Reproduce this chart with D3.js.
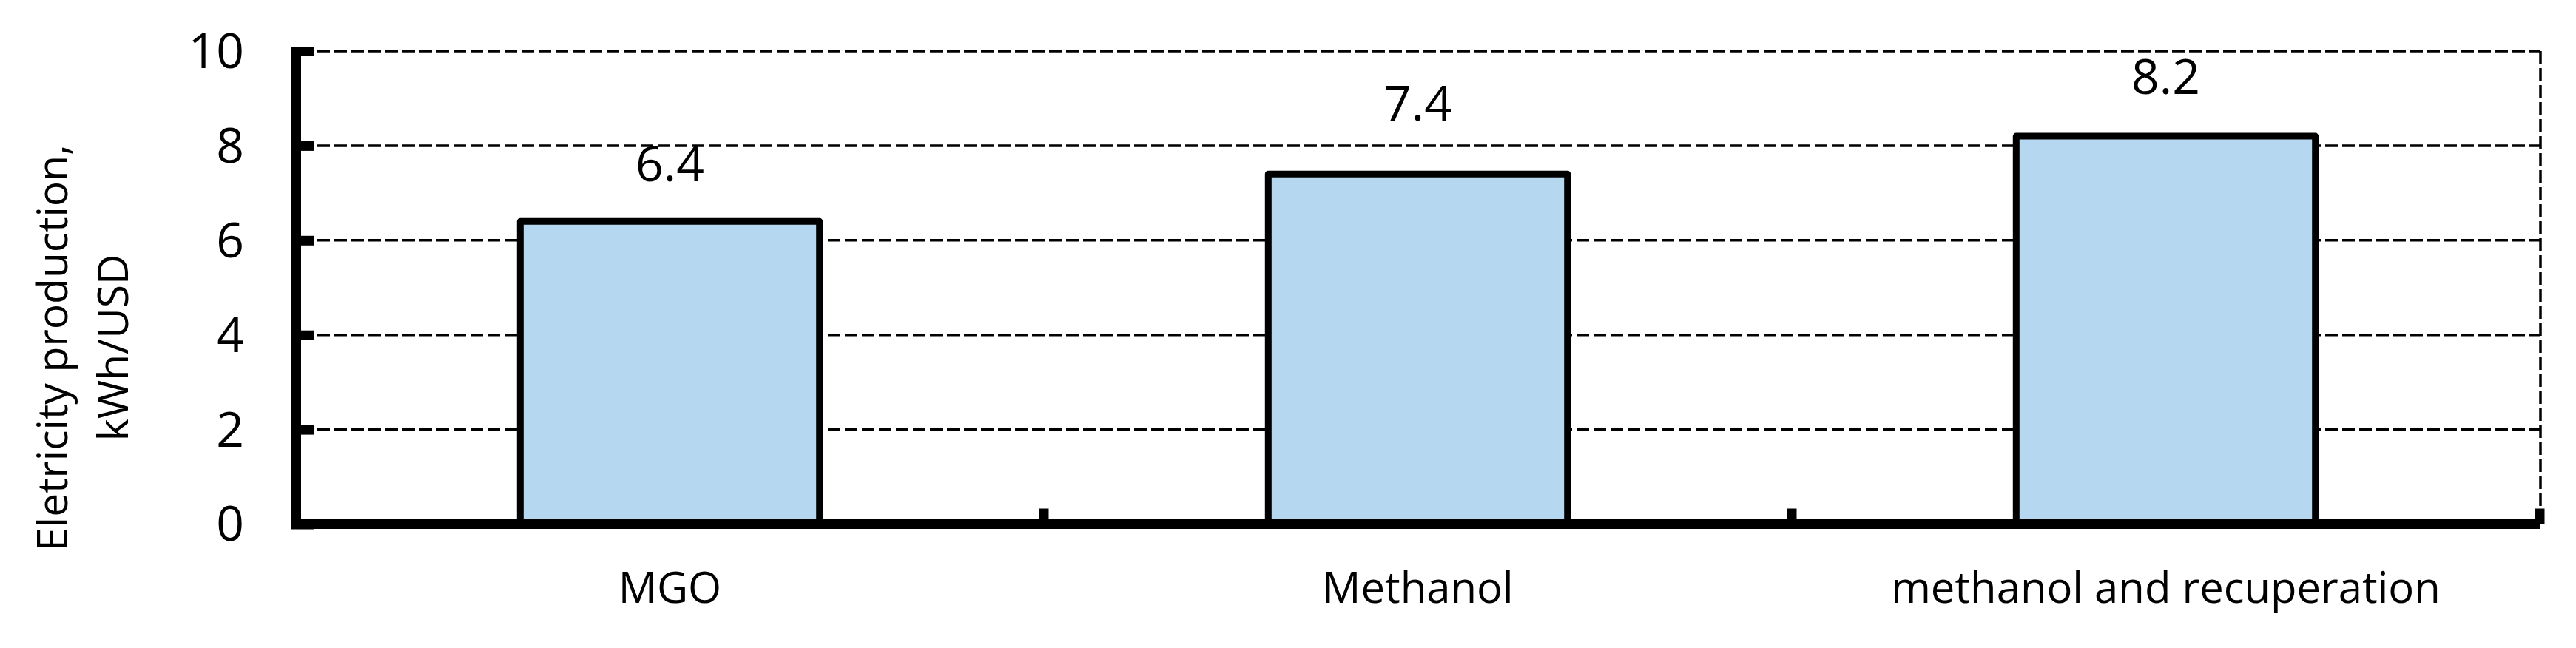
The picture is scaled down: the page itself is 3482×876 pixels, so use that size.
<!DOCTYPE html>
<html>
<head>
<meta charset="utf-8">
<script src="https://cdn.jsdelivr.net/npm/d3@7"></script>
<style>
  html, body { margin: 0; padding: 0; background: #ffffff; }
  svg { display: block; }
  text { font-family: "Open Sans", "Noto Sans", sans-serif; fill: #000; }
</style>
</head>
<body>
<svg id="chart" width="3482" height="876"></svg>
<script>
// ---- data ----
const categories = ["MGO", "Methanol", "methanol and recuperation"];
const values = [6.4, 7.4, 8.2];
const valueLabels = ["6.4", "7.4", "8.2"];
const yTicks = [0, 2, 4, 6, 8, 10];
const yTitleLines = ["Eletricity production,", "kWh/USD"];

// ---- layout (not data) ----
const W = 3482, H = 876;
const plot = { left: 400, right: 3433, top: 69, bottom: 708.5 };
const labelLift = [54, 72, 57];

const svg = d3.select("#chart");

const x = d3.scaleBand()
  .domain(categories)
  .range([plot.left, plot.right])
  .paddingInner(0.6)
  .paddingOuter(0.3);

const y = d3.scaleLinear()
  .domain([0, 10])
  .range([plot.bottom, plot.top]);

// gridlines (dashed)
svg.append("g")
  .selectAll("line")
  .data(yTicks.filter(d => d > 0))
  .join("line")
  .attr("x1", plot.left + 6)
  .attr("x2", plot.right + 1)
  .attr("y1", d => y(d))
  .attr("y2", d => y(d))
  .attr("stroke", "#000")
  .attr("stroke-width", 3.5)
  .attr("stroke-dasharray", "17,6");

// right dashed border
svg.append("line")
  .attr("x1", plot.right + 1).attr("x2", plot.right + 1)
  .attr("y1", y(10)).attr("y2", y(0) - 20)
  .attr("stroke", "#000")
  .attr("stroke-width", 3.5)
  .attr("stroke-dasharray", "17,6");

// bars
svg.append("g")
  .selectAll("rect")
  .data(values)
  .join("rect")
  .attr("x", (d, i) => x(categories[i]))
  .attr("width", x.bandwidth())
  .attr("y", d => y(d))
  .attr("height", d => y(0) - y(d))
  .attr("fill", "#b5d8f0")
  .attr("stroke", "#000")
  .attr("stroke-width", 9)
  .attr("stroke-linejoin", "round");

// value labels
svg.append("g")
  .selectAll("text")
  .data(values)
  .join("text")
  .attr("x", (d, i) => x(categories[i]) + x.bandwidth() / 2)
  .attr("y", (d, i) => y(d) - labelLift[i])
  .attr("text-anchor", "middle")
  .attr("font-size", 66)
  .text((d, i) => valueLabels[i]);

// y axis
const yAxis = d3.axisLeft(y)
  .tickValues(yTicks)
  .tickFormat(d3.format("d"))
  .tickSizeInner(-24)
  .tickSizeOuter(0)
  .tickPadding(70);

const gy = svg.append("g")
  .attr("transform", `translate(${plot.left},0)`)
  .call(yAxis);
gy.select(".domain").attr("stroke", "#000").attr("stroke-width", 13);
gy.selectAll(".tick line").attr("stroke", "#000").attr("stroke-width", 13).attr("x1", -6);
gy.selectAll(".tick text")
  .attr("font-size", 66)
  .attr("font-family", "Open Sans")
  .attr("dy", "0.34em")
  .attr("fill", "#000");

// x axis (labels centered, ticks at category boundaries)
const xAxis = d3.axisBottom(x).tickSize(0).tickPadding(0);
const gx = svg.append("g")
  .attr("transform", `translate(0,${plot.bottom})`)
  .call(xAxis);
gx.select(".domain").remove();
gx.selectAll(".tick text")
  .attr("font-size", 58)
  .attr("font-family", "Open Sans")
  .attr("dy", null)
  .attr("y", 106)
  .attr("fill", "#000");

// x-axis line
svg.append("line")
  .attr("x1", plot.left - 1).attr("x2", plot.right)
  .attr("y1", plot.bottom).attr("y2", plot.bottom)
  .attr("stroke", "#000").attr("stroke-width", 13);

// boundary ticks on x axis
const boundaries = categories.map((c, i) => x(c) - x.step() * x.paddingInner() / 2 + x.step());
svg.append("g")
  .selectAll("line")
  .data(boundaries)
  .join("line")
  .attr("x1", d => d).attr("x2", d => d)
  .attr("y1", plot.bottom).attr("y2", plot.bottom - 21)
  .attr("stroke", "#000").attr("stroke-width", 13);

// y title
const titleG = svg.append("g")
  .attr("transform", "translate(0,470) rotate(-90)");
titleG.selectAll("text")
  .data(yTitleLines)
  .join("text")
  .attr("x", 0)
  .attr("y", (d, i) => [91, 173][i])
  .attr("text-anchor", "middle")
  .attr("font-size", 57)
  .text(d => d);
</script>
</body>
</html>
